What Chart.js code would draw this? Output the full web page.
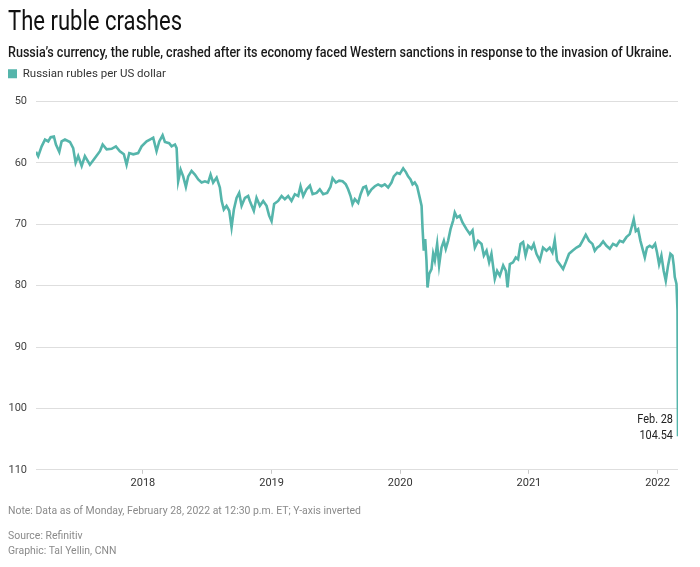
<!DOCTYPE html>
<html><head><meta charset="utf-8">
<script src="https://cdn.jsdelivr.net/npm/chart.js@4"></script>
<style>
html,body{margin:0;padding:0;background:#fff;}
body{width:700px;height:567px;position:relative;overflow:hidden;font-family:Roboto, sans-serif;}
#wrap{position:absolute;left:0;top:0;width:700px;height:567px;}
.t{position:absolute;left:8px;white-space:nowrap;transform-origin:0 50%;}
#title{top:6px;font-size:28px;line-height:30px;color:#111;}
#sub{top:43px;font-size:15.5px;line-height:18px;font-weight:500;color:#1a1a1a;}
.n{font-size:11px;line-height:13px;color:#8a8a8a;}
#note{top:504px;}
#src{top:529px;}
#gfx{top:544px;}
</style></head><body>
<div id="wrap"><canvas id="c" width="700" height="567"></canvas></div>
<div class="t" id="title" data-w="174">The ruble crashes</div>
<div class="t" id="sub" data-w="664">Russia’s currency, the ruble, crashed after its economy faced Western sanctions in response to the invasion of Ukraine.</div>
<div class="t n" id="note" data-w="353">Note: Data as of Monday, February 28, 2022 at 12:30 p.m. ET; Y-axis inverted</div>
<div class="t n" id="src" data-like="note">Source: Refinitiv</div>
<div class="t n" id="gfx" data-like="note">Graphic: Tal Yellin, CNN</div>
<script>
// ---- data ----
const seriesName = "Russian rubles per US dollar";
const lastDateLabel = "Feb. 28";
const yearTicks = [2018, 2019, 2020, 2021, 2022];
const yearLabels = ["2018", "2019", "2020", "2021", "2022"];
const yTicks = [50, 60, 70, 80, 90, 100, 110];
// time in decimal years
const timeYears = [
2017.169,2017.186,2017.213,2017.239,2017.264,2017.283,2017.308,2017.324,2017.350,2017.368,
2017.394,2017.433,2017.458,2017.477,2017.497,2017.524,2017.549,2017.588,2017.627,2017.666,
2017.687,2017.718,2017.757,2017.790,2017.821,2017.852,2017.873,2017.894,2017.925,2017.963,
2017.990,2018.029,2018.054,2018.080,2018.106,2018.127,2018.153,2018.171,2018.204,2018.223,
2018.249,2018.262,2018.274,2018.293,2018.313,2018.334,2018.352,2018.378,2018.404,2018.430,
2018.456,2018.482,2018.507,2018.526,2018.546,2018.573,2018.598,2018.612,2018.629,2018.650,
2018.671,2018.689,2018.707,2018.728,2018.748,2018.767,2018.793,2018.818,
2018.831,2018.862,2018.883,2018.909,2018.935,2018.961,2018.981,2019.000,2019.020,2019.051,
2019.078,2019.103,2019.129,2019.155,2019.181,2019.207,2019.225,2019.246,2019.272,2019.298,
2019.319,2019.350,2019.375,2019.401,2019.432,2019.458,2019.474,2019.500,2019.525,2019.552,
2019.577,2019.595,2019.614,2019.629,2019.647,2019.673,2019.692,2019.712,2019.733,2019.751,
2019.777,2019.803,2019.828,2019.855,2019.880,2019.906,2019.932,2019.950,2019.976,2019.997,
2020.023,2020.044,2020.061,2020.080,2020.096,2020.113,2020.131,2020.152,2020.166,2020.173,
2020.183,2020.194,2020.204,2020.212,2020.225,2020.243,2020.256,2020.269,2020.287,2020.302,
2020.321,2020.339,2020.354,2020.372,2020.391,2020.411,2020.424,2020.442,2020.463,2020.484,
2020.515,2020.541,2020.562,2020.580,2020.605,2020.632,2020.650,2020.671,2020.691,2020.709,
2020.735,2020.753,2020.774,2020.800,2020.821,2020.834,2020.852,2020.877,2020.898,2020.916,
2020.935,2020.955,2020.974,2020.994,2021.020,2021.038,2021.059,2021.085,2021.110,2021.137,
2021.162,2021.183,2021.201,2021.219,2021.240,2021.266,2021.287,2021.312,2021.339,2021.370,
2021.396,2021.417,2021.442,2021.468,2021.494,2021.512,2021.530,2021.551,2021.577,2021.603,
2021.629,2021.654,2021.681,2021.706,2021.732,2021.758,2021.784,2021.805,2021.815,2021.831,
2021.849,2021.867,2021.887,2021.901,2021.918,2021.939,2021.960,2021.981,2021.996,2022.012,
2022.030,2022.048,2022.064,2022.082,2022.100,2022.116,2022.126,2022.134,2022.147,2022.155,
2022.159];
// rubles per US dollar
const rubles = [
58.2,58.9,57.3,56.2,56.5,55.8,55.7,57.0,58.2,56.5,
56.2,56.6,57.6,60.0,58.9,60.5,58.9,60.3,59.2,58.1,
57.0,57.8,57.7,57.3,58.1,58.6,60.3,58.4,58.6,58.4,
57.3,56.5,56.2,55.9,58.1,56.5,55.5,56.6,56.8,57.3,
57.0,57.6,63.0,61.1,62.2,63.9,62.2,61.3,61.9,62.7,
63.2,63.0,63.2,61.9,63.2,62.4,64.0,66.2,67.6,67.0,
67.8,70.5,67.6,65.7,64.9,67.0,65.7,65.4,
66.2,67.8,65.7,67.0,66.2,67.0,68.6,69.5,66.7,66.2,
65.4,65.9,65.4,66.2,65.1,65.4,63.8,65.4,64.3,63.7,
65.1,64.9,64.3,65.1,64.9,63.9,62.5,63.2,62.9,63.0,
63.5,64.3,65.4,66.7,65.9,66.5,65.1,64.0,63.8,65.1,
64.3,63.8,63.5,63.8,63.5,64.0,63.2,62.2,61.6,61.8,
60.9,61.5,62.2,62.7,63.5,63.2,63.8,65.7,67.0,70.5,
74.3,72.4,75.9,80.3,78.1,77.3,74.8,75.9,73.2,76.7,
73.8,72.7,74.0,72.7,70.8,69.4,68.1,68.9,68.6,69.7,
70.8,71.6,71.0,73.8,72.7,73.2,75.1,74.3,76.2,74.8,
78.9,77.6,78.4,76.7,77.6,80.3,76.5,76.2,75.4,75.7,
73.2,72.9,75.1,73.5,74.0,73.2,74.8,75.9,73.8,74.3,
73.8,74.6,72.6,75.9,76.5,77.3,76.2,74.8,74.3,73.8,
73.5,72.7,71.7,72.7,73.2,74.3,73.8,73.5,72.8,73.5,
74.0,73.2,73.5,72.7,72.9,72.1,71.6,70.0,69.2,71.1,
70.8,72.7,74.3,75.4,73.8,73.5,73.8,73.2,74.6,76.5,
75.1,77.6,79.2,76.7,74.8,75.1,76.7,78.6,79.7,84.0,
104.54];

// ---- styling ----
const lineColor = '#55b5ab';
const FONT = 'Roboto';
const legendExtra = 12;

const legendTweak = {
  id: 'legendTweak',
  beforeInit(chart) {
    const lg = chart.legend;
    if (!lg) return;
    const orig = lg.fit;
    lg.fit = function () { orig.call(this); this.height += legendExtra; };
  }
};

const annot = {
  id: 'annot',
  afterDatasetsDraw(chart) {
    const meta = chart.getDatasetMeta(0);
    const p = meta.data[meta.data.length - 1];
    const ctx = chart.ctx;
    ctx.save();
    ctx.fillStyle = '#222';
    ctx.font = '13px ' + FONT;
    ctx.textAlign = 'right';
    ctx.textBaseline = 'middle';
    ctx.translate(p.x - 5, p.y);
    ctx.scale(0.84, 1);
    ctx.fillText(rubles[rubles.length - 1].toFixed(2), 0, -1);
    ctx.fillText(lastDateLabel, 0, -17);
    ctx.restore();
  }
};

function fitTexts() {
  const scales = {};
  document.querySelectorAll('.t[data-w]').forEach(el => {
    el.style.transform = 'none';
    const w = el.getBoundingClientRect().width;
    const s = parseFloat(el.dataset.w) / w;
    scales[el.id] = s;
    el.style.transform = 'scaleX(' + s + ')';
  });
  document.querySelectorAll('.t[data-like]').forEach(el => {
    el.style.transform = 'scaleX(' + scales[el.dataset.like] + ')';
  });
}

function build() {
  fitTexts();
  new Chart(document.getElementById('c'), {
    type: 'line',
    data: {
      datasets: [{
        label: seriesName,
        data: timeYears.map((t, i) => ({ x: t, y: rubles[i] })),
        borderColor: lineColor,
        backgroundColor: lineColor,
        borderWidth: 2.6,
        pointRadius: 0,
        tension: 0,
        fill: false
      }]
    },
    options: {
      responsive: false,
      animation: false,
      events: [],
      layout: { padding: { left: 8, right: 22, top: 68, bottom: 74 } },
      plugins: {
        legend: {
          display: true, position: 'top', align: 'start',
          labels: {
            boxWidth: 9, boxHeight: 9, padding: 0, color: '#333',
            font: { family: FONT, size: 11.5 },
            generateLabels(chart) {
              const items = Chart.defaults.plugins.legend.labels.generateLabels(chart);
              items.forEach(it => { it.lineWidth = 0; it.fillStyle = lineColor; it.strokeStyle = lineColor; });
              return items;
            }
          }
        },
        tooltip: { enabled: false }
      },
      scales: {
        x: {
          type: 'linear',
          min: timeYears[0],
          max: timeYears[timeYears.length - 1],
          afterBuildTicks: s => { s.ticks = yearTicks.map(v => ({ value: v })); },
          ticks: {
            autoSkip: false, maxRotation: 0, padding: 3, color: '#333',
            font: { family: FONT, size: 11 },
            callback: (v) => { const i = yearTicks.indexOf(v); return i >= 0 ? yearLabels[i] : ''; }
          },
          grid: { drawOnChartArea: false, drawTicks: true, tickLength: 4, color: '#c8c8c8' },
          border: { display: false }
        },
        y: {
          reverse: true, min: 50, max: 110,
          afterBuildTicks: s => { s.ticks = yTicks.map(v => ({ value: v })); },
          afterFit: s => { s.width = 28; },
          ticks: { padding: 9, color: '#444', font: { family: FONT, size: 11 } },
          grid: { color: '#dedede', drawTicks: false, lineWidth: 1 },
          border: { display: false }
        }
      }
    },
    plugins: [legendTweak, annot]
  });
}
if (document.fonts && document.fonts.ready) {
  document.fonts.load('28px Roboto').then(() => document.fonts.load('500 15px Roboto')).then(build, build);
} else build();
</script>
</body></html>
